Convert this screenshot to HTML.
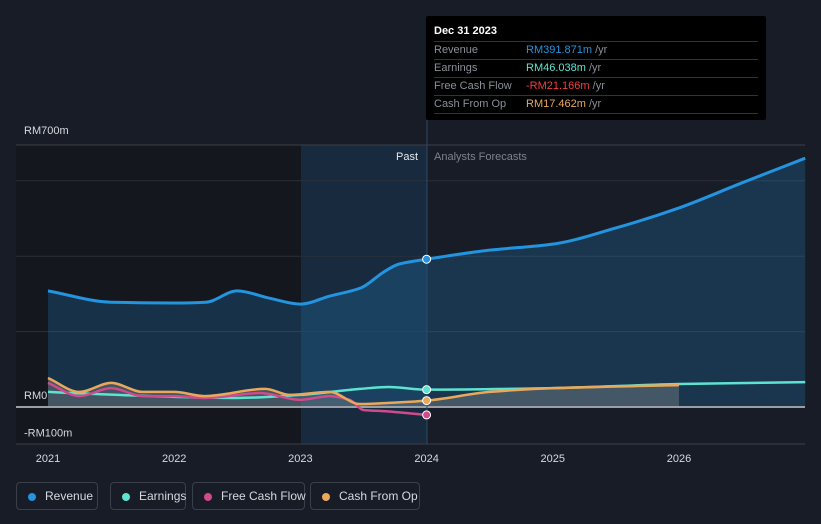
<!DOCTYPE html>
<html><head><meta charset="utf-8"><style>
body{margin:0;background:#181c26;font-family:"Liberation Sans",sans-serif;}
svg{display:block}
.leg{position:absolute;top:482px;height:28px;border:1px solid #3a3f4a;border-radius:4px;color:#d6d9de;font-size:12px;line-height:26px;box-sizing:border-box;padding-left:28px;white-space:nowrap}
.leg i{position:absolute;left:11px;top:10px;width:8px;height:8px;border-radius:50%}
</style></head><body>
<div style="position:relative;width:821px;height:524px;overflow:hidden">
<svg id="c" width="821" height="524"></svg>
<div class="leg" style="left:16px;width:82px"><i style="background:#2394df"></i>Revenue</div>
<div class="leg" style="left:110px;width:76px"><i style="background:#5ee3d0"></i>Earnings</div>
<div class="leg" style="left:192px;width:113px"><i style="background:#d04a8c"></i>Free Cash Flow</div>
<div class="leg" style="left:310px;width:110px"><i style="background:#e9a95a"></i>Cash From Op</div>
<div style="position:absolute;left:426px;top:16px;width:340px;height:104px;background:#000;border-radius:2px;font-size:11px">
<div style="position:absolute;left:8px;top:9px;color:#fff;font-weight:bold">Dec 31 2023</div>
<div style="position:absolute;left:8px;right:8px;top:25px;border-top:1px solid #333"></div>
<div style="position:absolute;left:8px;top:26px;width:324px;line-height:17px;color:#8a8f98">
<div style="border-bottom:1px solid #333">Revenue<span style="position:absolute;left:92px;color:#2394df">RM391.871m <span style="color:#8a8f98">/yr</span></span></div>
<div style="border-bottom:1px solid #333">Earnings<span style="position:absolute;left:92px;color:#5ee3d0">RM46.038m <span style="color:#8a8f98">/yr</span></span></div>
<div style="border-bottom:1px solid #333">Free Cash Flow<span style="position:absolute;left:92px;color:#f04040">-RM21.166m <span style="color:#8a8f98">/yr</span></span></div>
<div style="border-bottom:1px solid #333">Cash From Op<span style="position:absolute;left:92px;color:#e9a95a">RM17.462m <span style="color:#8a8f98">/yr</span></span></div>
</div></div>
</div>
<script>
const revX=[2021,2021.5,2022,2022.25,2022.5,2022.75,2023,2023.23,2023.48,2023.66,2023.78,2024,2024.5,2025,2025.5,2026,2026.48,2027];
const revV=[308,278,276,278,308,289,273,294,316,358,379,392,416,432,475,528,592,660];
const earnX=[2021,2021.4,2022,2022.5,2023,2023.47,2023.7,2024,2025,2026,2027];
const earnV=[40,34,27,24,32,48,53,46,50,61,66];
const fcfX=[2021,2021.25,2021.5,2021.75,2022,2022.24,2022.68,2023,2023.23,2023.39,2023.5,2023.66,2024];
const fcfV=[64,29,50,29,29,24,37,19,29,19,-8,-11,-21];
const cfoX=[2021,2021.25,2021.5,2021.75,2022,2022.24,2022.72,2022.92,2023.23,2023.47,2023.7,2024,2024.5,2025,2026];
const cfoV=[77,40,64,40,40,29,48,32,40,8,11,17,40,50,58];
const yTicks=[700,0,-100];const yLabels=["RM700m","RM0","-RM100m"];
const xTicks=[2021,2022,2023,2024,2025,2026];
const X=v=>48+(v-2021)*126.2, Y=v=>407-v*0.377;
const s=document.getElementById('c'),NS="http://www.w3.org/2000/svg";
function el(t,a,p){const e=document.createElementNS(NS,t);for(const k in a)e.setAttribute(k,a[k]);(p||s).appendChild(e);return e;}
function path(xs,vs){const px=xs.map(X),py=vs.map(Y),n=px.length;const d=[],m=[];
for(let i=0;i<n-1;i++)d.push((py[i+1]-py[i])/(px[i+1]-px[i]));
for(let i=0;i<n;i++){if(i==0)m.push(d[0]);else if(i==n-1)m.push(d[n-2]);else m.push(d[i-1]*d[i]<=0?0:2/(1/d[i-1]+1/d[i]));}
let s="M"+px[0]+","+py[0];
for(let i=0;i<n-1;i++){const h=(px[i+1]-px[i])/3;s+=` C${px[i]+h},${py[i]+m[i]*h} ${px[i+1]-h},${py[i+1]-m[i+1]*h} ${px[i+1]},${py[i+1]}`;}return s;}
let e;
e=el('rect',{x:16,y:145,width:285,height:299,fill:'#14171e'});
e=el('rect',{x:301,y:145,width:126,height:299,fill:'#182a3d'});
[600,400,200].forEach(v=>{e=el('line',{x1:16,x2:805,y1:Y(v),y2:Y(v),stroke:'#2a2f3a'});});
e=el('line',{x1:16,x2:805,y1:145,y2:145,stroke:'#3a3f4a'});
e=el('line',{x1:16,x2:805,y1:444,y2:444,stroke:'#3a3f4a'});
e=el('path',{d:path(revX,revV)+` L${X(2027)},${Y(0)} L${X(2021)},${Y(0)}Z`,fill:'rgba(35,148,223,0.22)'});
e=el('path',{d:path(cfoX,cfoV)+` L${X(2026)},${Y(0)} L${X(2021)},${Y(0)}Z`,fill:'rgba(150,150,150,0.35)'});
e=el('line',{x1:16,x2:805,y1:Y(0),y2:Y(0),stroke:'#9a9ea6',"stroke-width":2});
e=el('line',{x1:427,x2:427,y1:120,y2:444,stroke:'#2c4a66'});
const series=[[earnX,earnV,'#5ee3d0','earnings'],[fcfX,fcfV,'#d04a8c','free-cash-flow'],[cfoX,cfoV,'#e9a95a','cash-from-op'],[revX,revV,'#2394df','revenue']];
series.forEach(([xs,vs,c,n])=>{e=el('path',{d:path(xs,vs),fill:'none',stroke:c,"stroke-width":n=='revenue'?3:2.5});
const i=xs.indexOf(2024);if(i>=0){e=el('circle',{cx:X(2024),cy:Y(vs[i]),r:4,fill:c,stroke:'#fff',"stroke-width":1});}});
const yOff={700:-9,0:-8,"-100":-8};
yTicks.forEach((v,i)=>{e=el('text',{x:24,y:Y(v)+yOff[v],fill:'#d6d9de',"font-size":11});e.textContent=yLabels[i];});
xTicks.forEach(v=>{e=el('text',{x:X(v),y:462,fill:'#d6d9de',"font-size":11,"text-anchor":"middle"});e.textContent=v;});
e=el('text',{x:418,y:160,fill:'#e6e8eb',"font-size":11,"text-anchor":"end"});e.textContent="Past";
e=el('text',{x:434,y:160,fill:'#7d828b',"font-size":11});e.textContent="Analysts Forecasts";
</script>
</body></html>
